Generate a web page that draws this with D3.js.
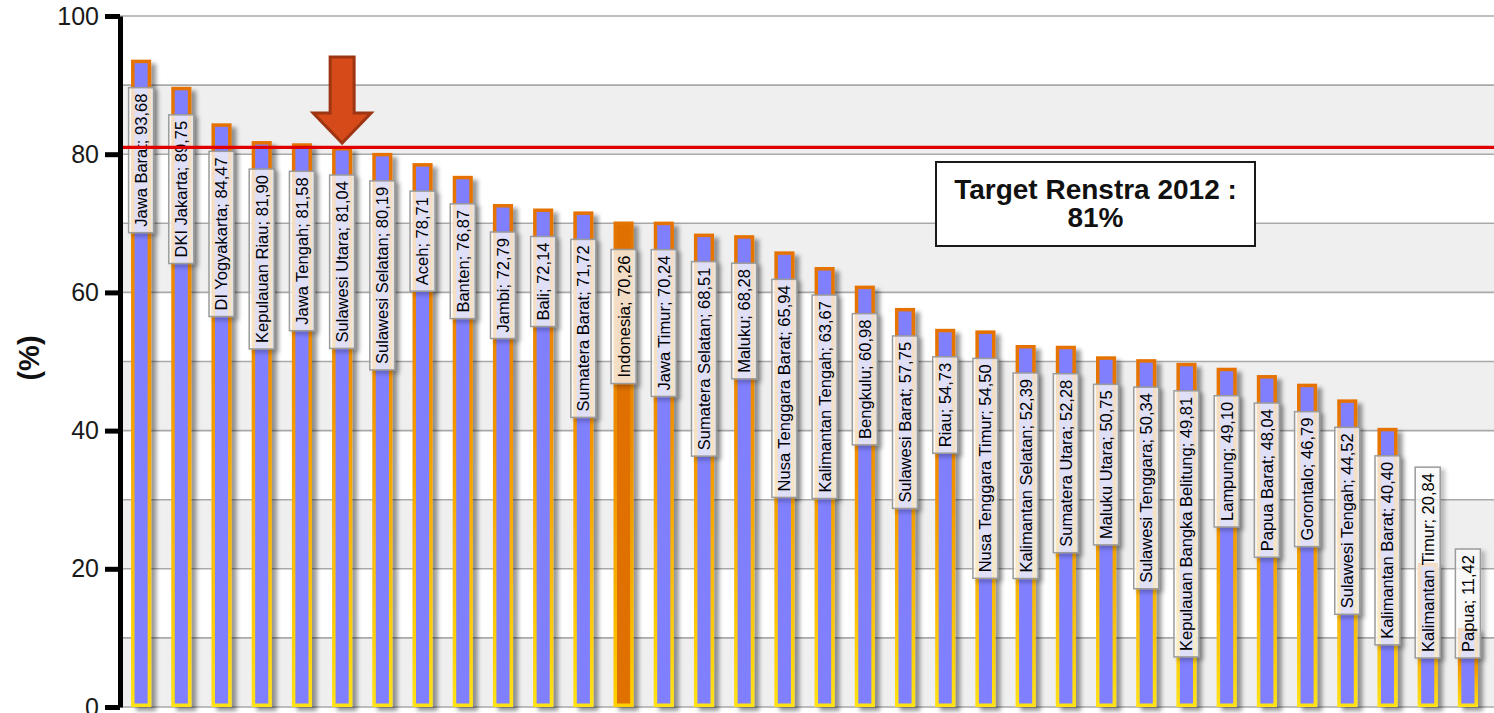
<!DOCTYPE html>
<html>
<head>
<meta charset="utf-8">
<script src="https://cdn.jsdelivr.net/npm/d3@7"></script>
<style>
  html, body { margin: 0; padding: 0; background: #ffffff; }
  svg { display: block; font-family: "Liberation Sans", Arial, sans-serif; }
</style>
</head>
<body>
<svg id="chart" width="1494" height="713"></svg>
<script>
// ---------- data ----------
const regions = [
  "Jawa Barat", "DKI Jakarta", "DI Yogyakarta", "Kepulauan Riau", "Jawa Tengah",
  "Sulawesi Utara", "Sulawesi Selatan", "Aceh", "Banten", "Jambi", "Bali",
  "Sumatera Barat", "Indonesia", "Jawa Timur", "Sumatera Selatan", "Maluku",
  "Nusa Tenggara Barat", "Kalimantan Tengah", "Bengkulu", "Sulawesi Barat", "Riau",
  "Nusa Tenggara Timur", "Kalimantan Selatan", "Sumatera Utara", "Maluku Utara",
  "Sulawesi Tenggara", "Kepulauan Bangka Belitung", "Lampung", "Papua Barat",
  "Gorontalo", "Sulawesi Tengah", "Kalimantan Barat", "Kalimantan Timur", "Papua"
];
const values = [
  93.68, 89.75, 84.47, 81.90, 81.58,
  81.04, 80.19, 78.71, 76.87, 72.79, 72.14,
  71.72, 70.26, 70.24, 68.51, 68.28,
  65.94, 63.67, 60.98, 57.75, 54.73,
  54.50, 52.39, 52.28, 50.75,
  50.34, 49.81, 49.10, 48.04,
  46.79, 44.52, 40.40, 20.84, 11.42
];
const nationalCategory = "Indonesia";
const arrowCategory = "Sulawesi Utara";
const targetValue = 81;
const targetLines = ["Target Renstra 2012 :", "81%"];
const yTickValues = [0, 20, 40, 60, 80, 100];
const yGridStep = 10;
const yAxisTitle = "(%)";

// ---------- layout ----------
const W = 1494, H = 713;
const svg = d3.select("#chart");
const plotLeft = 120, plotRight = W, plotTop = 16, plotBottom = 707;

const y = d3.scaleLinear().domain([0, 100]).range([plotBottom, plotTop]);
const x = d3.scaleBand().domain(regions).range([121, 1488]).paddingInner(0.5).paddingOuter(0.25);

const data = regions.map((r, i) => ({ region: r, value: values[i] }));
const locale = d3.formatLocale({ decimal: ",", thousands: ".", grouping: [3], currency: ["", ""] });
const fmt = locale.format(".2f");

// ---------- defs ----------
const defs = svg.append("defs");
const shadow = defs.append("filter").attr("id", "shadow")
  .attr("x", "-50%").attr("y", "-10%").attr("width", "200%").attr("height", "120%");
shadow.append("feDropShadow").attr("dx", 5).attr("dy", 4).attr("stdDeviation", 2)
  .attr("flood-color", "#000").attr("flood-opacity", 0.4);
const shadowSoft = defs.append("filter").attr("id", "shadowSoft")
  .attr("x", "-50%").attr("y", "-10%").attr("width", "200%").attr("height", "120%");
shadowSoft.append("feDropShadow").attr("dx", 4).attr("dy", 3).attr("stdDeviation", 2)
  .attr("flood-color", "#000").attr("flood-opacity", 0.3);

const gBlue = defs.append("linearGradient").attr("id", "borderBlue")
  .attr("x1", 0).attr("y1", 0).attr("x2", 0).attr("y2", 1);
gBlue.append("stop").attr("offset", "0").attr("stop-color", "#e57200");
gBlue.append("stop").attr("offset", "0.45").attr("stop-color", "#f29400");
gBlue.append("stop").attr("offset", "1").attr("stop-color", "#ffe214");
const gOrange = defs.append("linearGradient").attr("id", "borderOrange")
  .attr("x1", 0).attr("y1", 0).attr("x2", 0).attr("y2", 1);
gOrange.append("stop").attr("offset", "0").attr("stop-color", "#e27400");
gOrange.append("stop").attr("offset", "0.5").attr("stop-color", "#ee9000");
gOrange.append("stop").attr("offset", "1").attr("stop-color", "#ffd000");

// ---------- background bands & grid ----------
const bandStarts = d3.range(0, 100, yGridStep);
svg.append("g").selectAll("rect").data(bandStarts.filter((d, i) => i % 2 === 0)).join("rect")
  .attr("x", plotLeft).attr("width", plotRight - plotLeft)
  .attr("y", d => y(d + yGridStep)).attr("height", d => y(d) - y(d + yGridStep))
  .attr("fill", "#efefef");

svg.append("g").selectAll("line").data(d3.range(0, 101, yGridStep)).join("line")
  .attr("x1", plotLeft).attr("x2", plotRight)
  .attr("y1", d => y(d)).attr("y2", d => y(d))
  .attr("stroke", "#a9a9a9").attr("stroke-width", 1.6);

// ---------- bars ----------
const inset = 3.5;
const bw = x.bandwidth();
const bars = svg.append("g").selectAll("g").data(data).join("g");
bars.append("rect")
  .attr("x", d => x(d.region)).attr("width", bw)
  .attr("y", d => y(d.value)).attr("height", d => y(0) - y(d.value))
  .attr("fill", d => d.region === nationalCategory ? "url(#borderOrange)" : "url(#borderBlue)")
  .attr("filter", "url(#shadow)");
bars.append("rect")
  .attr("x", d => x(d.region) + inset).attr("width", bw - 2 * inset)
  .attr("y", d => y(d.value) + inset).attr("height", d => y(0) - y(d.value) - 2 * inset)
  .attr("fill", d => d.region === nationalCategory ? "#e07000" : "#8080ff");

// ---------- value labels ----------
const labelFont = 16.5, labelPad = 6, boxW = 25, labelGap = 28, labelFloor = 658;
const labels = svg.append("g").selectAll("g").data(data).join("g");
labels.each(function (d) {
  const g = d3.select(this);
  const cx = x(d.region) + bw / 2;
  const rect = g.append("rect");
  const t = g.append("text")
    .attr("font-size", labelFont).attr("fill", "#000")
    .attr("text-anchor", "middle")
    .text(`${d.region}; ${fmt(d.value)}`);
  const len = t.node().getComputedTextLength() + 2 * labelPad;
  let top = y(d.value) + labelGap;
  if (top + len > labelFloor) top = labelFloor - len;
  rect.attr("x", cx - boxW / 2).attr("y", top).attr("width", boxW).attr("height", len)
    .attr("fill", "#ffffff").attr("fill-opacity", 0.74)
    .attr("stroke", "#9b9b9b").attr("stroke-width", 1.5)
    .attr("filter", "url(#shadowSoft)");
  t.attr("transform", `translate(${cx},${top + len / 2}) rotate(-90)`)
    .attr("dy", "0.36em");
});

// ---------- target line ----------
svg.append("line")
  .attr("x1", plotLeft).attr("x2", plotRight)
  .attr("y1", y(targetValue)).attr("y2", y(targetValue))
  .attr("stroke", "#e00000").attr("stroke-width", 3.2);

// ---------- axis ----------
const axis = svg.append("g").attr("transform", `translate(${plotLeft},0)`)
  .call(d3.axisLeft(y).tickValues(yTickValues).tickSize(15).tickSizeOuter(0).tickPadding(6).tickFormat(d3.format("d")));
axis.select(".domain").attr("stroke", "#000").attr("stroke-width", 5);
axis.selectAll(".tick line").attr("stroke", "#000").attr("stroke-width", 5);
axis.selectAll(".tick text").attr("font-size", 25).attr("fill", "#1a1a1a")
  .attr("font-family", "'Liberation Sans', Arial, sans-serif");

svg.append("text")
  .attr("transform", `translate(29,358) rotate(-90)`)
  .attr("text-anchor", "middle").attr("dy", "0.35em")
  .attr("font-size", 29).attr("font-weight", "bold").attr("fill", "#111")
  .text(yAxisTitle);

// ---------- arrow ----------
const ax = x(arrowCategory) + bw / 2;
const tipY = y(values[regions.indexOf(arrowCategory)]) - 4;
const shaftHalf = 12, headHalf = 29, headH = 30, shaftH = 56;
const arrowPath = d3.path();
arrowPath.moveTo(ax - shaftHalf, tipY - headH - shaftH);
arrowPath.lineTo(ax + shaftHalf, tipY - headH - shaftH);
arrowPath.lineTo(ax + shaftHalf, tipY - headH);
arrowPath.lineTo(ax + headHalf, tipY - headH);
arrowPath.lineTo(ax, tipY);
arrowPath.lineTo(ax - headHalf, tipY - headH);
arrowPath.lineTo(ax - shaftHalf, tipY - headH);
arrowPath.closePath();
svg.append("path").attr("d", arrowPath.toString())
  .attr("fill", "#d64a1a").attr("stroke", "#9e3512").attr("stroke-width", 3)
  .attr("stroke-linejoin", "miter");

// ---------- target box ----------
const boxG = svg.append("g");
boxG.append("rect").attr("x", 936).attr("y", 162).attr("width", 319).attr("height", 84)
  .attr("fill", "#ffffff").attr("stroke", "#1a1a1a").attr("stroke-width", 2);
boxG.selectAll("text").data(targetLines).join("text")
  .attr("x", 1095.5).attr("y", (d, i) => 199 + i * 28)
  .attr("text-anchor", "middle").attr("font-size", 28).attr("font-weight", "bold")
  .attr("fill", "#111").text(d => d);
</script>
</body>
</html>
